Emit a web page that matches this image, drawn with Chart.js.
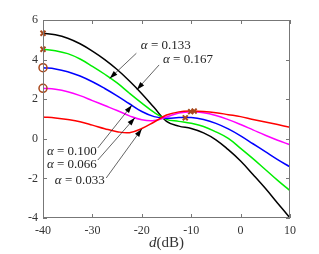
<!DOCTYPE html>
<html lang="en">
<head>
  <meta charset="UTF-8">
  <title>alpha curves vs d(dB)</title>
  <script src="https://cdn.jsdelivr.net/npm/chart.js"></script>
  <style>
    body {
      margin: 0;
      background-color: white;
    }
  </style>
</head>
<body>
  <canvas id="alphaChart" width="319" height="254"></canvas>

  <script>
    // d in dB
    const dValues = [-40, -37.5, -35, -32.5, -30, -27.5, -25, -22.5, -20, -17.5, -15,
                     -12.5, -10, -7.5, -5, -2.5, 0, 2.5, 5, 7.5, 10];

    const alpha0167 = [5.33, 5.25, 5.08, 4.8, 4.43, 4.0, 3.5, 2.92, 2.28, 1.58, 0.88,
                       0.64, 0.52, 0.3, -0.05, -0.55, -1.12, -1.8, -2.5, -3.25, -4.0];
    const alpha0133 = [4.52, 4.45, 4.3, 4.03, 3.66, 3.26, 2.82, 2.3, 1.8, 1.33, 0.98,
                       0.88, 0.78, 0.62, 0.35, 0.02, -0.48, -1.0, -1.55, -2.1, -2.62];
    const alpha0100 = [3.59, 3.53, 3.39, 3.17, 2.88, 2.54, 2.17, 1.77, 1.38, 1.12, 1.04,
                       1.07, 1.07, 0.97, 0.78, 0.5, 0.15, -0.25, -0.65, -1.05, -1.42];
    const alpha0066 = [2.55, 2.5, 2.38, 2.18, 1.93, 1.68, 1.43, 1.16, 0.96, 0.92, 1.1,
                       1.3, 1.37, 1.32, 1.18, 0.97, 0.72, 0.45, 0.18, -0.07, -0.3];
    const alpha0033 = [1.1, 1.05, 0.97, 0.86, 0.69, 0.51, 0.36, 0.31, 0.52, 0.85, 1.2,
                       1.36, 1.4, 1.38, 1.32, 1.22, 1.12, 0.98, 0.85, 0.72, 0.58];

    // marked points
    const crossX = [-40, -40, -9.4, -10.1, -11.2];
    const crossY = [5.33, 4.52, 1.4, 1.37, 1.06];
    const circleX = [-40, -40];
    const circleY = [3.59, 2.55];

    const xTicks = [-40, -30, -20, -10, 0, 10];
    const yTicks = [-4, -2, 0, 2, 4, 6];

    // label text, left edge x, center y, arrow start, arrow tip
    const labels = [
      { text: '0.133', x: -20.2, y: 4.69, from: [-21.1, 4.32], to: [-26.5, 3.05] },
      { text: '0.167', x: -15.7, y: 3.98, from: [-16.5, 3.73], to: [-21.0, 2.48] },
      { text: '0.100', x: -39.2, y: -0.65, from: [-28.9, -0.46], to: [-22.0, 1.7] },
      { text: '0.066', x: -39.2, y: -1.32, from: [-28.9, -1.07], to: [-21.4, 1.06] },
      { text: '0.033', x: -37.6, y: -2.13, from: [-27.2, -1.98], to: [-20.0, 0.5] }
    ];

    const serif = '"Liberation Serif", "DejaVu Serif", serif';
    const markerColor = '#a8481c';

    function series(ys, color) {
      return {
        data: dValues.map((d, i) => ({ x: d, y: ys[i] })),
        borderColor: color,
        borderWidth: 1.5,
        pointRadius: 0,
        tension: 0.4,
        fill: false
      };
    }

    const boxPlugin = {
      id: 'boxPlugin',
      afterDraw(chart) {
        const ctx = chart.ctx;
        const a = chart.chartArea;
        const xs = chart.scales.x;
        const ys = chart.scales.y;

        ctx.save();
        ctx.strokeStyle = '#777';
        ctx.lineWidth = 1;
        ctx.strokeRect(a.left + 0.5, a.top + 0.5, a.right - a.left - 1, a.bottom - a.top - 1);

        // inward ticks
        ctx.beginPath();
        xTicks.forEach(v => {
          const px = Math.round(xs.getPixelForValue(v)) + 0.5;
          ctx.moveTo(px, a.bottom); ctx.lineTo(px, a.bottom - 4);
          ctx.moveTo(px, a.top); ctx.lineTo(px, a.top + 4);
        });
        yTicks.forEach(v => {
          const py = Math.round(ys.getPixelForValue(v)) + 0.5;
          ctx.moveTo(a.left, py); ctx.lineTo(a.left + 4, py);
          ctx.moveTo(a.right, py); ctx.lineTo(a.right - 4, py);
        });
        ctx.stroke();

        // axis title d(dB)
        ctx.fillStyle = '#333';
        ctx.textBaseline = 'middle';
        ctx.font = 'italic 15px ' + serif;
        const dW = ctx.measureText('d').width;
        ctx.font = '15px ' + serif;
        const restW = ctx.measureText('(dB)').width;
        const cx = (a.left + a.right) / 2;
        const startX = cx - (dW + restW) / 2;
        ctx.font = 'italic 15px ' + serif;
        ctx.textAlign = 'left';
        ctx.fillText('d', startX, 243);
        ctx.font = '15px ' + serif;
        ctx.fillText('(dB)', startX + dW, 243);

        // annotations
        labels.forEach(l => {
          let tx = xs.getPixelForValue(l.x);
          const ty = ys.getPixelForValue(l.y);
          ctx.fillStyle = '#222';
          ctx.font = 'italic 13px ' + serif;
          ctx.fillText('\u03b1', tx, ty);
          tx += ctx.measureText('\u03b1').width;
          ctx.font = '13px ' + serif;
          ctx.fillText(' = ' + l.text, tx, ty);

          const x1 = xs.getPixelForValue(l.from[0]);
          const y1 = ys.getPixelForValue(l.from[1]);
          const x2 = xs.getPixelForValue(l.to[0]);
          const y2 = ys.getPixelForValue(l.to[1]);
          ctx.strokeStyle = '#222';
          ctx.lineWidth = 0.7;
          ctx.beginPath();
          ctx.moveTo(x1, y1);
          ctx.lineTo(x2, y2);
          ctx.stroke();

          const ang = Math.atan2(y2 - y1, x2 - x1);
          const len = 8, wid = 2.6;
          const bx = x2 - len * Math.cos(ang);
          const by = y2 - len * Math.sin(ang);
          ctx.fillStyle = '#000';
          ctx.beginPath();
          ctx.moveTo(x2, y2);
          ctx.lineTo(bx + wid * Math.sin(ang), by - wid * Math.cos(ang));
          ctx.lineTo(bx - wid * Math.sin(ang), by + wid * Math.cos(ang));
          ctx.closePath();
          ctx.fill();
        });
        ctx.restore();
      }
    };

    const ctx = document.getElementById('alphaChart').getContext('2d');
    const alphaChart = new Chart(ctx, {
      type: 'line',
      data: {
        datasets: [
          {
            type: 'scatter',
            data: crossX.map((x, i) => ({ x: x, y: crossY[i] })),
            pointStyle: 'crossRot',
            pointRadius: 3.5,
            borderColor: markerColor,
            borderWidth: 2,
            showLine: false,
            clip: false
          },
          {
            type: 'scatter',
            data: circleX.map((x, i) => ({ x: x, y: circleY[i] })),
            pointStyle: 'circle',
            pointRadius: 4,
            borderColor: markerColor,
            backgroundColor: 'rgba(0,0,0,0)',
            borderWidth: 1.5,
            showLine: false,
            clip: false
          },
          series(alpha0033, '#ff0000'),
          series(alpha0066, '#ff00ff'),
          series(alpha0100, '#0000ff'),
          series(alpha0133, '#00ee00'),
          series(alpha0167, '#000000')
        ]
      },
      options: {
        responsive: false,
        animation: false,
        events: [],
        layout: {
          padding: { top: 20, right: 29, left: 0, bottom: 0 }
        },
        plugins: {
          legend: { display: false },
          tooltip: { enabled: false }
        },
        scales: {
          x: {
            type: 'linear',
            min: -40,
            max: 10,
            afterFit: s => { s.height = 36; },
            afterBuildTicks: s => { s.ticks = xTicks.map(v => ({ value: v })); },
            grid: { display: false, drawTicks: false },
            border: { display: false },
            ticks: {
              padding: 6,
              color: '#333',
              font: { family: serif, size: 12 }
            }
          },
          y: {
            min: -4,
            max: 6,
            afterFit: s => { s.width = 43; },
            afterBuildTicks: s => { s.ticks = yTicks.map(v => ({ value: v })); },
            grid: { display: false, drawTicks: false },
            border: { display: false },
            ticks: {
              padding: 5,
              color: '#333',
              font: { family: serif, size: 12 }
            }
          }
        }
      },
      plugins: [boxPlugin]
    });
  </script>
</body>
</html>
